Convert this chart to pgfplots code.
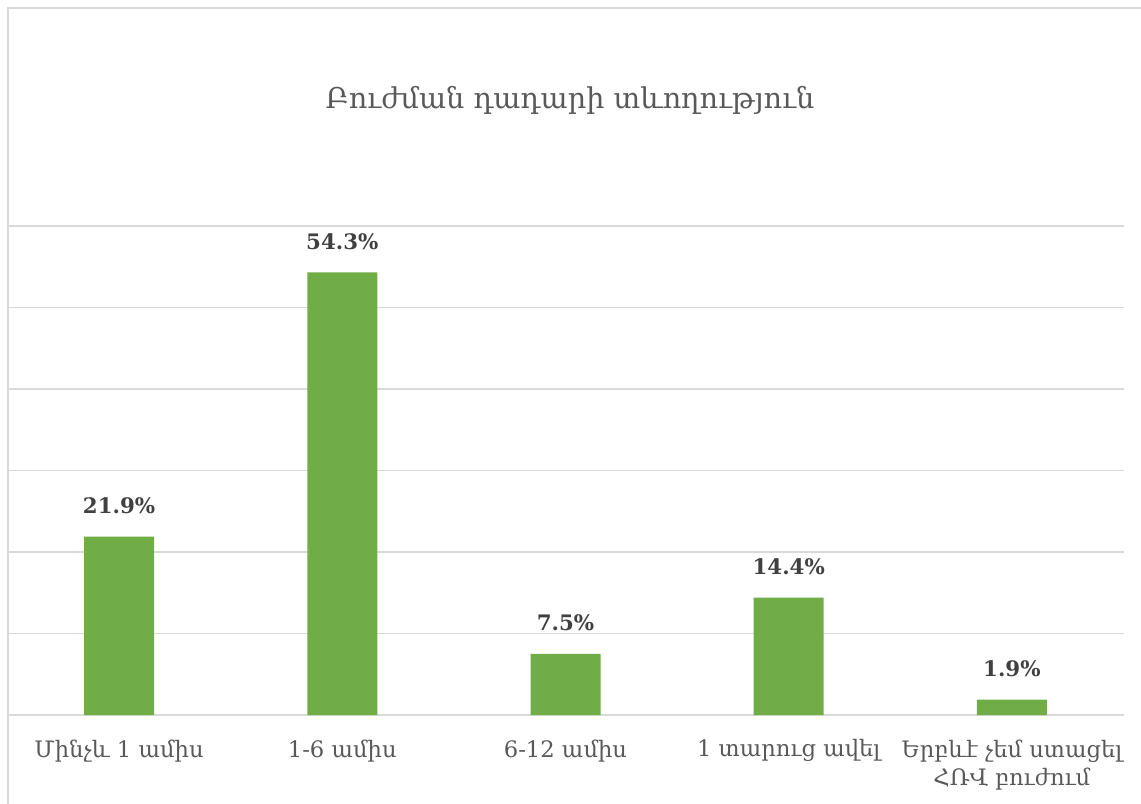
\documentclass[border=0pt]{standalone}
\usepackage{pgfplots}
\pgfplotsset{compat=1.18}
\usepackage{fontspec}
\setmainfont{DejaVu Serif}
\definecolor{bargreen}{HTML}{70AD47}
\definecolor{gridgray}{HTML}{D9D9D9}
\definecolor{txtgray}{HTML}{595959}
\definecolor{lblgray}{HTML}{404040}
\begin{document}
\begin{tikzpicture}
\useasboundingbox (0,0) rectangle (855.75pt,602.25pt);
\draw[gridgray, line width=1.5pt] (6pt,-20pt) -- (6pt,596.6pt) -- (880pt,596.6pt);
\begin{axis}[
  at={(5.625pt,66pt)}, anchor=south west,
  scale only axis, width=837pt, height=366.75pt,
  xmin=-0.5, xmax=4.5, ymin=0, ymax=60,
  ybar, bar width=52.5pt,
  xtick={0,1,2,3,4},
  xticklabels={Մինչև 1 ամիս, 1-6 ամիս, 6-12 ամիս, 1 տարուց ավել, {Երբևէ չեմ ստացել\\ՀՌՎ բուժում}},
  xticklabel style={align=center, font=\fontsize{17}{21}\selectfont, text=txtgray, anchor=north, yshift=-15pt},
  ytick={0,10,...,60}, yticklabels={},
  ymajorgrids, grid style={gridgray, line width=1.3pt},
  axis line style={draw=none}, major tick length=0pt,
  /pgf/number format/assume math mode=true,
  nodes near coords={\pgfmathprintnumber[fixed,precision=1,fixed zerofill]{\pgfplotspointmeta}\%},
  every node near coord/.append style={font=\fontsize{16}{18}\selectfont\bfseries, text=lblgray, yshift=13.5pt},
]
\addplot[fill=bargreen, draw=none] coordinates {(0,21.9) (1,54.3) (2,7.5) (3,14.4) (4,1.9)};
\end{axis}
\node[text=txtgray, font=\fontsize{21.5}{24}\selectfont] at (427.5pt,527pt) {Բուժման դադարի տևողություն};
\end{tikzpicture}
\end{document}
